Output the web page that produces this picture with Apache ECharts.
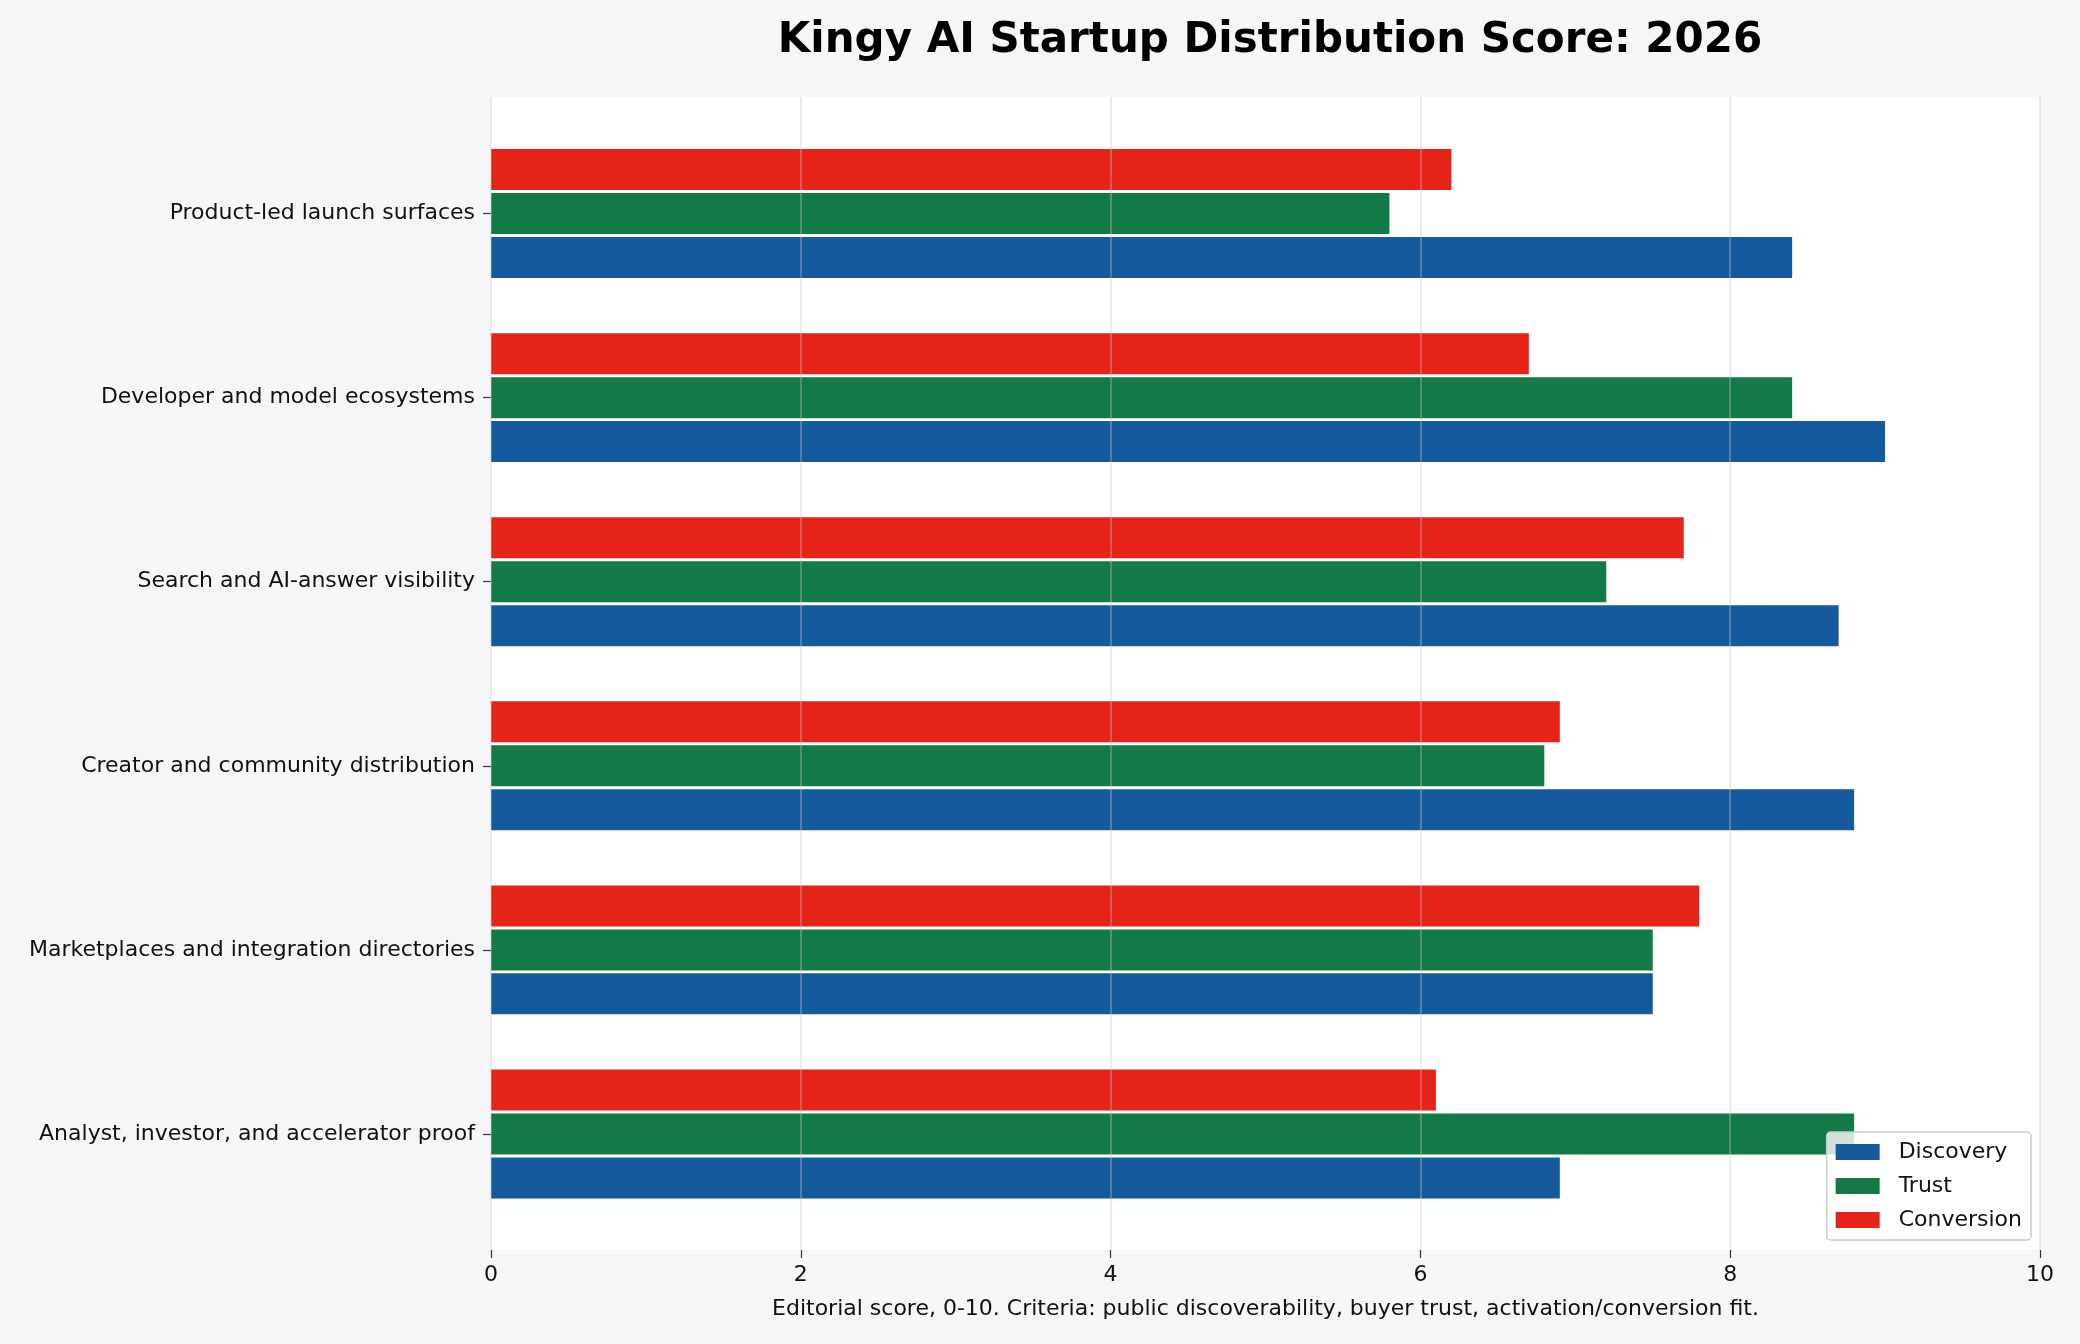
<!DOCTYPE html>
<html lang="en">
<head>
    <meta charset="UTF-8">
    <script src="https://cdn.jsdelivr.net/npm/echarts@6/dist/echarts.min.js"></script>
    <style>
        html, body {margin:0; padding:0; background:#f5f6f8;}
        #chart {width:2080px; height:1344px;}
    </style>
    <title>Kingy AI Startup Distribution Score</title>
</head>
<body>
    <div id="chart"></div>
    <script>
        // categories top to bottom
        const channels = [
            'Product-led launch surfaces',
            'Developer and model ecosystems',
            'Search and AI-answer visibility',
            'Creator and community distribution',
            'Marketplaces and integration directories',
            'Analyst, investor, and accelerator proof'
        ]
        const discovery  = [8.4, 9.0, 8.7, 8.8, 7.5, 6.9]
        const trust      = [5.8, 8.4, 7.2, 6.8, 7.5, 8.8]
        const conversion = [6.2, 6.7, 7.7, 6.9, 7.8, 6.1]
        const xTicks = [0, 2, 4, 6, 8, 10]

        const font = 'DejaVu Sans'
        const colors = {Discovery:'#155a9c', Trust:'#137a47', Conversion:'#e52319'}

        let chart = echarts.init(document.getElementById('chart'))

        function barSeries(name, data) {
            return {
                name: name,
                type: 'bar',
                xAxisIndex: 1,
                yAxisIndex: 1,
                data: data,
                barWidth: 41,
                barGap: '7.3%',
                itemStyle: {color: colors[name]},
                emphasis: {disabled: true}
            }
        }

        let options = {
            backgroundColor: '#f5f6f8',
            animation: false,
            textStyle: {fontFamily: font},
            title: {
                text: 'Kingy AI Startup Distribution Score: 2026',
                left: 1265, top: 15, textAlign: 'center',
                textStyle: {fontFamily: font, fontSize: 42, fontWeight: 'bold', color: '#000'}
            },
            legend: {
                data: ['Discovery', 'Trust', 'Conversion'],
                orient: 'vertical',
                right: 49, bottom: 104,
                icon: 'rect',
                itemWidth: 44, itemHeight: 16, itemGap: 12,
                padding: [9, 9, 9, 9],
                backgroundColor: 'rgba(255,255,255,0.8)',
                borderColor: '#cccccc', borderWidth: 1.5, borderRadius: 4,
                textStyle: {fontFamily: font, fontSize: 22, color: '#111', padding: [0, 0, 0, 14]}
            },
            grid: [
                {left: 491, right: 40, top: 97, bottom: 94, show: true, backgroundColor: '#ffffff', borderWidth: 0, z: 0},
                {left: 491, right: 40, top: 121.5, bottom: 118}
            ],
            xAxis: [
                {
                    gridIndex: 0, type: 'value', min: xTicks[0], max: xTicks[xTicks.length - 1], interval: 2, z: 5,
                    axisLine: {show: false},
                    axisTick: {show: true, length: 8, lineStyle: {color: '#333', width: 1.2}},
                    axisLabel: {fontFamily: font, fontSize: 22, color: '#111', margin: 14},
                    splitLine: {show: true, lineStyle: {color: 'rgba(200,200,200,0.45)', width: 1.5}},
                    name: 'Editorial score, 0-10. Criteria: public discoverability, buyer trust, activation/conversion fit.',
                    nameLocation: 'middle', nameGap: 48,
                    nameTextStyle: {fontFamily: font, fontSize: 22, color: '#111'}
                },
                {gridIndex: 1, type: 'value', min: 0, max: 10, show: false, splitLine: {show: false}}
            ],
            yAxis: [
                {gridIndex: 0, type: 'value', show: false, splitLine: {show: false}},
                {
                    gridIndex: 1, type: 'category', data: channels, inverse: true,
                    axisLine: {show: false},
                    axisTick: {show: true, alignWithLabel: true, length: 8, lineStyle: {color: '#333', width: 1.2}},
                    axisLabel: {fontFamily: font, fontSize: 22, color: '#111', margin: 16},
                    splitLine: {show: false}
                }
            ],
            // conversion drawn at the top of each group, discovery at the bottom
            series: [
                barSeries('Conversion', conversion),
                barSeries('Trust', trust),
                barSeries('Discovery', discovery)
            ]
        }
        chart.setOption(options)
    </script>
</body>
</html>
